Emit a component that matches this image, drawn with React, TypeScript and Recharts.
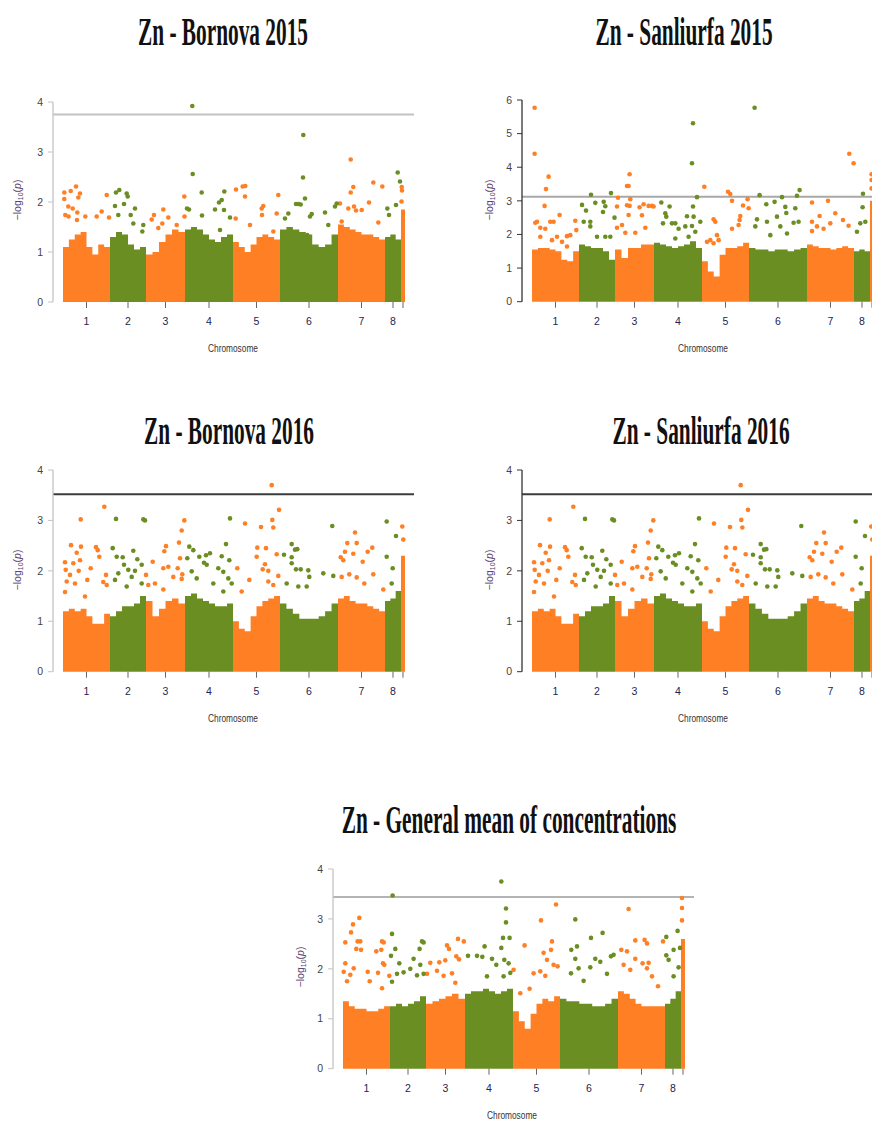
import React from 'react'
import {
  ComposedChart,
  Area,
  Scatter,
  XAxis,
  YAxis,
  ReferenceLine,
} from 'recharts'

// chromosome layout (same for every panel, in plot units)
const chromLengths = [47, 36, 39, 48, 47, 58, 47, 16, 4]
const chromLabels = ['1', '2', '3', '4', '5', '6', '7', '8', '']

// dense block tops per chromosome, -log10(p)
const bornova2015Mass = [
  [1.1, 1.25, 1.35, 1.4, 1.1, 0.95, 1.15, 1.1],
  [1.3, 1.4, 1.35, 1.15, 1.05, 1.1],
  [0.95, 1.0, 1.2, 1.35, 1.45, 1.4],
  [1.45, 1.5, 1.45, 1.35, 1.25, 1.2, 1.3, 1.35],
  [1.2, 1.1, 1.0, 1.15, 1.3, 1.35, 1.3, 1.25],
  [1.45, 1.5, 1.45, 1.4, 1.35, 1.15, 1.1, 1.15, 1.35],
  [1.55, 1.5, 1.45, 1.4, 1.35, 1.35, 1.3, 1.25],
  [1.3, 1.35, 1.25],
  [1.85],
]

// isolated markers: [position, -log10(p)]
const bornova2015Peaks = [
  [1.3, 2.19], [1.3, 2.06], [7.7, 2.22], [13, 2.31], [17, 2.17], [15.3, 2.09], [5.3, 1.91], [9.7, 1.87],
  [2.3, 1.74], [5.5, 1.71], [14.3, 1.79], [14, 1.64], [22.3, 1.71], [33.7, 1.71], [38.7, 1.81], [43.7, 2.14], [46, 1.69],
  [53, 2.19], [56.3, 2.24], [63.7, 2.17], [64.7, 2.11], [52, 1.92], [61, 1.96], [67.7, 1.74], [72, 1.87],
  [70.3, 1.57], [80.3, 1.54], [55.3, 1.74], [79.3, 1.41],
  [88.7, 1.65], [91, 1.74], [100.3, 1.85], [105.3, 1.69], [95.3, 1.48], [99.3, 1.57], [113.7, 1.54], [121.3, 2.11], [121.5, 1.71],
  [129.3, 3.92], [129.7, 2.56], [138.7, 2.19], [124, 1.87], [126, 1.85], [139, 1.73], [152, 1.85], [156, 1.99],
  [158.7, 2.04], [161.3, 2.21], [161, 1.84], [167, 1.69], [157, 1.44],
  [173, 2.25], [179.7, 2.31], [182.3, 2.32], [182, 2.11], [172.7, 1.67], [187, 1.54], [198.7, 1.87], [200.3, 1.92],
  [199, 1.74], [215.3, 2.14], [213.7, 1.77], [210.3, 1.41],
  [240.3, 3.34], [240, 2.49], [242, 2.07], [235.3, 1.96], [237.7, 1.95], [233, 1.96], [225.3, 1.77], [222, 1.67],
  [248.7, 1.76], [262, 1.79], [244.3, 1.34], [247, 1.71], [265.3, 1.54], [273.7, 1.97], [272, 1.91],
  [287.7, 2.85], [290.3, 2.3], [287.7, 2.19], [277, 1.97], [285.3, 1.87], [291, 1.91], [293, 1.83], [310.3, 2.39],
  [319.3, 2.31], [306, 1.99], [315.3, 1.59], [278.7, 1.61], [298.7, 1.84],
  [334.7, 2.59], [337, 2.41], [333, 1.94], [324.3, 1.87], [326, 1.74],
  [338.7, 2.3], [339, 2.23], [338.5, 2.01],
]

const sanliurfa2015Mass = [
  [1.55, 1.6, 1.6, 1.55, 1.5, 1.25, 1.2, 1.5],
  [1.7, 1.65, 1.6, 1.6, 1.5, 1.25],
  [1.55, 1.3, 1.6, 1.6, 1.7, 1.7],
  [1.75, 1.7, 1.65, 1.6, 1.65, 1.7, 1.8, 1.6],
  [1.2, 0.9, 0.75, 1.4, 1.6, 1.6, 1.65, 1.75],
  [1.6, 1.55, 1.55, 1.5, 1.55, 1.55, 1.5, 1.55, 1.6],
  [1.7, 1.65, 1.6, 1.6, 1.55, 1.6, 1.65, 1.6],
  [1.5, 1.55, 1.5],
  [3.0],
]

const sanliurfa2015Peaks = [
  [2.6, 5.77], [2.6, 4.4], [16.6, 3.72], [14, 3.35], [12.6, 2.85], [27.6, 2.58], [3.3, 2.35], [5, 2.38],
  [18.3, 2.38], [21.6, 2.38], [8.3, 2.2], [13.3, 2.17], [25, 1.93], [35, 1.95], [38.3, 1.98], [43.3, 2.41],
  [44.3, 2.13], [8.3, 1.93], [20, 1.83], [30, 1.78], [35, 1.64],
  [59, 3.18], [79, 3.23], [50, 2.88], [54, 2.71], [63.3, 2.94], [71.7, 2.97], [73.3, 2.84], [71, 2.67],
  [51.7, 2.38], [58.3, 2.38], [58.3, 2.24], [73.3, 1.93], [65, 1.93], [78.3, 1.93], [82.5, 2.5],
  [97.6, 3.79], [95, 3.44], [96.6, 3.44], [86, 3.09], [98.3, 3.05], [95, 2.87], [97.6, 2.85], [85, 2.83],
  [96.6, 2.58], [107.6, 2.81], [111.6, 2.9], [116.6, 2.85], [120, 2.85], [121.6, 2.83], [110, 2.57],
  [113.3, 2.2], [85, 2.2], [90, 2.28], [93.3, 2.05], [103.3, 2.05],
  [129.3, 2.95], [137.6, 2.83], [133.3, 2.63], [134.3, 2.53], [131, 2.33], [140, 2.33], [143.3, 2.33],
  [146.6, 2.17], [155, 2.54], [153.3, 2.24], [143.3, 1.88], [161, 5.31], [160, 4.12], [165, 3.11], [161, 2.83],
  [161.6, 2.53], [160, 2.25], [168.3, 2.38], [163.3, 2.08], [156.6, 1.93],
  [172.3, 3.42], [196, 3.27], [198.3, 3.2], [200, 3.0], [215.6, 3.05], [216.6, 2.78], [211, 2.86], [181.6, 2.45],
  [183.3, 2.38], [208.3, 2.55], [207.6, 2.43], [206.6, 2.28], [200, 2.17], [185, 1.98], [186.6, 1.83],
  [175, 1.78], [178.3, 1.83], [181.6, 1.74],
  [222.6, 5.77], [227.6, 3.17], [250, 3.11], [265, 3.15], [267.6, 3.32], [234.3, 2.9], [242.6, 2.97],
  [253.3, 2.82], [263.3, 2.78], [254.3, 2.64], [245, 2.53], [235, 2.38], [261.6, 2.35], [248.3, 2.24],
  [225, 2.45], [223.3, 2.24], [266.6, 2.38], [238.3, 1.98], [255, 2.03],
  [317.3, 4.4], [321.6, 4.12], [280, 2.95], [296, 3.0], [287.6, 2.55], [303.3, 2.63], [311, 2.43],
  [298.3, 2.33], [280, 2.38], [285, 2.24], [316.6, 2.26], [291.6, 2.17], [280, 2.1],
  [331, 3.21], [330.6, 2.81], [333.3, 2.38], [328.3, 2.33], [325, 2.08],
  [339.6, 3.79], [339.6, 3.62], [339.6, 3.37],
]

const bornova2016Mass = [
  [1.2, 1.25, 1.2, 1.25, 1.1, 0.95, 0.95, 1.15],
  [1.1, 1.2, 1.3, 1.3, 1.35, 1.5],
  [1.4, 1.1, 1.25, 1.4, 1.45, 1.35],
  [1.5, 1.55, 1.45, 1.4, 1.35, 1.3, 1.3, 1.35],
  [1.0, 0.85, 0.8, 1.1, 1.3, 1.4, 1.45, 1.5],
  [1.35, 1.25, 1.15, 1.05, 1.05, 1.05, 1.1, 1.2, 1.35],
  [1.45, 1.5, 1.4, 1.35, 1.35, 1.3, 1.25, 1.2],
  [1.4, 1.45, 1.6],
  [2.3],
]

const bornova2016Peaks = [
  [17.7, 3.02], [41.3, 3.27], [8, 2.51], [18, 2.48], [13.7, 2.36], [33, 2.47], [34.7, 2.41], [36.3, 2.28],
  [2, 2.17], [10.3, 2.15], [17, 2.21], [2.7, 2.02], [15.7, 2.0], [27.7, 2.05], [7, 1.92], [3.7, 1.79],
  [12, 1.75], [24.3, 1.82], [40.3, 1.78], [43, 1.92], [43.7, 1.72], [2, 1.58], [22, 1.49],
  [53, 3.03], [80.3, 3.02], [82, 3.0], [49.7, 2.45], [53.7, 2.28], [59.7, 2.27], [70.3, 2.4], [74.3, 2.23],
  [61, 2.12], [65.3, 2.02], [72, 2.0], [55.3, 1.95], [78.7, 2.12], [52, 1.82], [68.7, 1.88], [63.7, 1.69], [78.7, 1.75],
  [83, 1.92], [121.3, 3.0], [118.7, 2.8], [116, 2.56], [103, 2.49], [101.3, 2.39], [89.7, 2.18], [100.3, 2.05],
  [105.3, 2.08], [117, 2.25], [114.7, 2.05], [92, 1.75], [110.3, 1.88], [118.7, 1.84], [119.3, 1.93],
  [85.3, 1.72], [100.3, 1.63],
  [126.3, 2.48], [130.3, 2.41], [136.3, 2.28], [124.3, 2.25], [143, 2.31], [147, 2.35], [141, 2.16],
  [143.7, 2.12], [155.3, 2.05], [128.7, 1.99], [133.7, 1.85], [150.3, 1.75], [167, 3.04], [163, 2.53],
  [158.7, 2.29], [166.3, 2.21], [160.3, 1.98], [165.3, 1.85], [160.3, 1.59], [168.7, 1.75],
  [208.7, 3.7], [216, 3.21], [209.3, 3.01], [210.3, 2.86], [182, 2.94], [198, 2.87], [194.3, 2.46], [203, 2.45],
  [193.7, 2.28], [213.7, 2.33], [202, 2.13], [199.7, 2.03], [205.3, 2.0], [174.3, 2.05], [186.3, 1.82],
  [178.7, 1.59], [205.3, 1.79], [210.3, 1.72], [215.3, 1.9],
  [269.3, 2.89], [228.7, 2.53], [234.3, 2.43], [232, 2.42], [221, 2.32], [228.7, 2.15], [233, 2.03],
  [237.7, 2.03], [228.7, 2.27], [245.3, 2.01], [246.3, 1.88], [260.3, 1.95], [270.3, 1.9], [223.7, 1.75],
  [235.3, 1.69], [243.7, 1.69],
  [292, 2.76], [284.3, 2.55], [293.7, 2.55], [309.3, 2.46], [304.7, 2.38], [277.7, 2.27], [282, 2.38],
  [280.3, 2.21], [290.3, 2.34], [299.7, 2.18], [310.3, 1.93], [286.3, 1.93], [293.7, 1.87], [278.7, 1.88],
  [301.3, 1.75], [320.3, 1.63],
  [323.7, 2.98], [333, 2.69], [323.7, 2.28], [329.7, 2.05], [328.7, 1.75],
  [339.3, 2.88], [340.3, 2.62],
]

// the 2016 Sanliurfa panel in the figure shows the same points as Bornova 2016
const sanliurfa2016Mass = bornova2016Mass
const sanliurfa2016Peaks = bornova2016Peaks

const meanMass = [
  [1.35, 1.25, 1.2, 1.2, 1.15, 1.15, 1.2, 1.25],
  [1.25, 1.3, 1.25, 1.3, 1.35, 1.45],
  [1.3, 1.35, 1.4, 1.45, 1.5, 1.4],
  [1.5, 1.55, 1.55, 1.6, 1.55, 1.5, 1.55, 1.6],
  [1.15, 0.95, 0.8, 1.1, 1.3, 1.4, 1.35, 1.45],
  [1.4, 1.35, 1.35, 1.3, 1.3, 1.25, 1.25, 1.3, 1.4],
  [1.55, 1.5, 1.4, 1.3, 1.25, 1.25, 1.25, 1.25],
  [1.3, 1.4, 1.55],
  [2.6],
]

const meanPeaks = [
  [16.3, 3.02], [10, 2.89], [8, 2.73], [2.3, 2.53], [14.6, 2.55], [17.3, 2.55], [39, 2.55], [40.7, 2.53],
  [13.3, 2.4], [18, 2.38], [33.3, 2.35], [38.3, 2.38], [2.3, 2.11], [0.7, 1.94], [7.3, 1.88], [10.7, 2.01],
  [24.7, 1.94], [35, 1.92], [40, 2.11], [41.3, 2.08], [46.3, 1.86], [4, 1.75], [26.7, 1.75], [39, 1.61],
  [49.6, 3.47], [49, 2.7], [52.3, 2.4], [48, 2.26], [56.3, 2.11], [70.6, 2.2], [79, 2.55], [80.6, 2.53],
  [76.6, 2.4], [77.3, 2.08], [54, 1.9], [60.6, 1.93], [67.3, 2.0], [80.6, 1.9], [74, 1.87], [49, 1.74],
  [115, 2.6], [120.8, 2.55], [104, 2.47], [106, 2.4], [87.3, 2.12], [96.3, 2.13], [102.3, 2.17], [113.3, 2.25],
  [116, 2.19], [84, 1.9], [94, 1.96], [100.6, 1.86], [109, 1.91], [112.3, 1.72],
  [158.3, 3.75], [163, 3.21], [163, 2.93], [160, 2.62], [158.3, 2.42], [141.6, 2.45], [134, 2.26], [139.3, 2.24],
  [125, 2.26], [149, 2.2], [161.3, 2.18], [165.6, 2.11], [153.3, 2.08], [144, 1.85], [166.6, 2.62],
  [167.3, 1.92], [160.6, 1.85],
  [213, 3.29], [198, 2.97], [181.6, 2.47], [209, 2.55], [200.6, 2.32], [208, 2.38], [204, 2.18], [210.6, 2.08],
  [214.6, 2.05], [190.6, 1.91], [197.3, 1.95], [202.3, 1.86], [170.6, 1.98], [177.3, 1.51], [186.6, 1.6],
  [232.3, 2.99], [259.6, 2.72], [248, 2.62], [228.3, 2.38], [234, 2.45], [252.3, 2.2], [257.3, 2.14],
  [268, 2.25], [270.6, 2.28], [232.3, 2.2], [235.6, 2.01], [247.3, 2.03], [228, 1.91], [264, 1.9], [240.6, 1.76],
  [285.6, 3.2], [292.3, 2.57], [301.6, 2.58], [304, 2.51], [320, 2.55], [278.3, 2.38], [284, 2.35],
  [292.3, 2.2], [299.6, 2.11], [305.6, 2.12], [280.6, 2.08], [304, 2.01], [309, 1.85], [287.3, 1.98], [315, 1.65],
  [334.6, 2.76], [323.3, 2.64], [330.6, 2.38], [323.3, 2.27], [337, 2.42], [325.6, 2.18], [330.6, 1.85], [335.6, 2.03],
  [339, 3.42], [339, 3.22], [339, 2.97],
]

const ORANGE = '#FF7F24'
const GREEN = '#6B8E23'
const X_DOMAIN = [-10, 351]

const chromStarts = chromLengths.map((_, i) =>
  chromLengths.slice(0, i).reduce((a, b) => a + b, 0)
)
const chromCenters = chromStarts.map((s, i) => s + chromLengths[i] / 2)

const chromOf = (pos: number) => {
  for (let i = chromStarts.length - 1; i >= 0; i--) {
    if (pos >= chromStarts[i]) return i
  }
  return 0
}

interface PanelProps {
  left: number
  plotTop: number
  plotHeight: number
  yMax: number
  threshold: number
  mass: number[][]
  peaks: number[][]
  axisColor: string
  lineColor: string
}

const TOP = 10

function ManhattanPanel({
  left,
  plotTop,
  plotHeight,
  yMax,
  threshold,
  mass,
  peaks,
  axisColor,
  lineColor,
}: PanelProps) {
  const blocks = mass.map((vals, i) => {
    const start = chromStarts[i]
    const len = chromLengths[i]
    const pts = vals.map((v, k) => ({ x: start + (k * len) / vals.length, y: v }))
    pts.push({ x: start + len, y: vals[vals.length - 1] })
    return pts
  })
  const orangePts = peaks
    .filter((p) => chromOf(p[0]) % 2 === 0)
    .map((p) => ({ x: p[0], y: p[1] }))
  const greenPts = peaks
    .filter((p) => chromOf(p[0]) % 2 === 1)
    .map((p) => ({ x: p[0], y: p[1] }))
  const yTicks = Array.from({ length: yMax + 1 }, (_, i) => i)

  const dot = (color: string) => (props: any) =>
    <circle cx={props.cx} cy={props.cy} r={2.3} fill={color} />

  return (
    <div style={{ position: 'absolute', left, top: plotTop - TOP }}>
      <ComposedChart
        width={416}
        height={TOP + plotHeight + 30}
        margin={{ top: TOP, right: 2, bottom: 0, left: 0 }}
      >
        <XAxis
          type="number"
          dataKey="x"
          domain={X_DOMAIN}
          ticks={chromCenters}
          interval={0}
          tickFormatter={(v, i) => chromLabels[i]}
          axisLine={false}
          tickLine={{ stroke: '#666' }}
          tickSize={6}
          tickMargin={10}
          height={30}
          tick={{ fill: '#23234f', fontSize: 10.5, fontFamily: 'Liberation Sans' }}
          allowDataOverflow
        />
        <YAxis
          type="number"
          dataKey="y"
          domain={[0, yMax]}
          ticks={yTicks}
          interval={0}
          width={53}
          tickSize={5}
          tickMargin={5}
          axisLine={{ stroke: axisColor, strokeWidth: 1.3 }}
          tickLine={{ stroke: axisColor }}
          tick={{ fill: '#444', fontSize: 10.5, fontFamily: 'Liberation Sans' }}
        />
        {blocks.map((pts, i) => (
          <Area
            key={`chr-${i}`}
            data={pts}
            dataKey="y"
            type="stepAfter"
            fill={i % 2 === 0 ? ORANGE : GREEN}
            fillOpacity={1}
            stroke="none"
            dot={false}
            activeDot={false}
            isAnimationActive={false}
          />
        ))}
        <Scatter data={orangePts} dataKey="y" fill={ORANGE} shape={dot(ORANGE)} isAnimationActive={false} />
        <Scatter data={greenPts} dataKey="y" fill={GREEN} shape={dot(GREEN)} isAnimationActive={false} />
        <ReferenceLine y={threshold} stroke={lineColor} strokeWidth={2} />
      </ComposedChart>
    </div>
  )
}

// titles: centre x, baseline (the figure's titles are horizontally squeezed)
const TITLE_SQUEEZE = 0.547
const titles = [
  { text: 'Zn - Bornova 2015', cx: 223, y: 45 },
  { text: 'Zn - Sanliurfa 2015', cx: 684, y: 45 },
  { text: 'Zn - Bornova 2016', cx: 229, y: 444 },
  { text: 'Zn - Sanliurfa 2016', cx: 701, y: 444 },
  { text: 'Zn - General mean of concentrations', cx: 509, y: 833 },
]

const yLabels = [
  { x: 21, y: 200 },
  { x: 493, y: 200 },
  { x: 21, y: 570 },
  { x: 493, y: 570 },
  { x: 304, y: 967 },
]

const xLabels = [
  { x: 233, y: 352 },
  { x: 703, y: 352 },
  { x: 233, y: 722 },
  { x: 703, y: 722 },
  { x: 512, y: 1119 },
]

export default function App() {
  return (
    <div
      style={{
        position: 'absolute',
        left: 0,
        top: 0,
        width: 872,
        height: 1122,
        overflow: 'hidden',
        background: '#fff',
      }}
    >
      <ManhattanPanel left={0} plotTop={102} plotHeight={200} yMax={4} threshold={3.75}
        mass={bornova2015Mass} peaks={bornova2015Peaks} axisColor="#c4c4c4" lineColor="#c2c2c2" />
      <ManhattanPanel left={468.7} plotTop={100} plotHeight={201.7} yMax={6} threshold={3.125}
        mass={sanliurfa2015Mass} peaks={sanliurfa2015Peaks} axisColor="#333" lineColor="#a8a8a8" />
      <ManhattanPanel left={0} plotTop={470} plotHeight={201.7} yMax={4} threshold={3.52}
        mass={bornova2016Mass} peaks={bornova2016Peaks} axisColor="#c4c4c4" lineColor="#3c3c3c" />
      <ManhattanPanel left={468.7} plotTop={470} plotHeight={201.7} yMax={4} threshold={3.52}
        mass={sanliurfa2016Mass} peaks={sanliurfa2016Peaks} axisColor="#333" lineColor="#3c3c3c" />
      <ManhattanPanel left={279.7} plotTop={869.3} plotHeight={199.7} yMax={4} threshold={3.44}
        mass={meanMass} peaks={meanPeaks} axisColor="#c4c4c4" lineColor="#b4b4b4" />

      <svg
        width={872}
        height={1122}
        style={{ position: 'absolute', left: 0, top: 0, pointerEvents: 'none' }}
      >
        {titles.map((t) => (
          <text
            key={t.text}
            x={0}
            y={0}
            transform={`translate(${t.cx} ${t.y}) scale(${TITLE_SQUEEZE} 1)`}
            textAnchor="middle"
            fontFamily="Liberation Serif"
            fontWeight="bold"
            fontSize={39}
            fill="#111"
          >
            {t.text}
          </text>
        ))}
        {yLabels.map((l, i) => (
          <text
            key={`yl-${i}`}
            x={l.x}
            y={l.y}
            transform={`rotate(-90 ${l.x} ${l.y})`}
            textAnchor="middle"
            fontFamily="Liberation Sans"
            fontSize={10.5}
            fill="#5a3d6e"
          >
            −log<tspan fontSize={7} dy={2}>10</tspan>
            <tspan dy={-2}>(</tspan>
            <tspan fontStyle="italic">p</tspan>)
          </text>
        ))}
        {xLabels.map((l, i) => (
          <text
            key={`xl-${i}`}
            x={l.x}
            y={l.y}
            textAnchor="middle"
            textLength={50}
            lengthAdjust="spacingAndGlyphs"
            fontFamily="Liberation Sans"
            fontSize={10}
            fill="#333"
          >
            Chromosome
          </text>
        ))}
      </svg>
    </div>
  )
}
